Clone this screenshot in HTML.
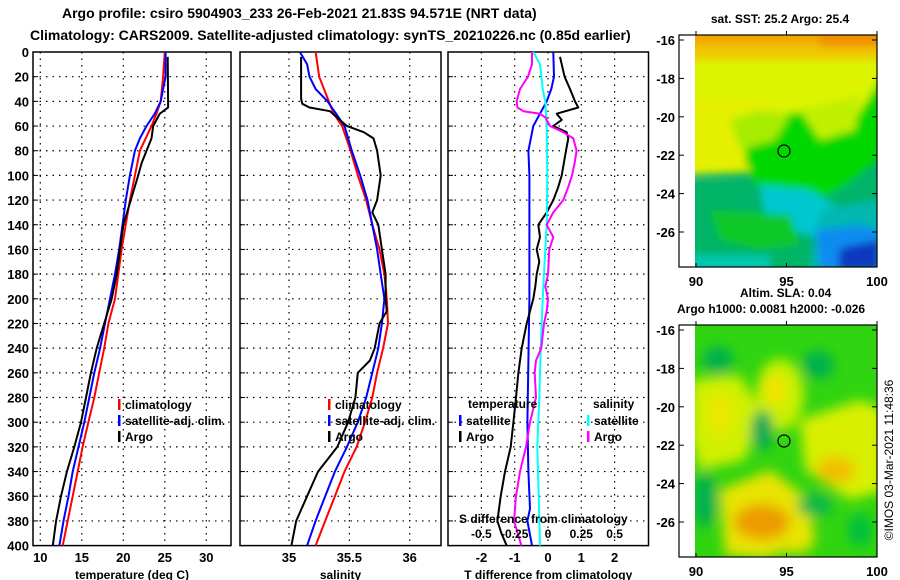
<!DOCTYPE html>
<html><head><meta charset="utf-8"><style>
html,body{margin:0;padding:0;background:#fff;width:900px;height:580px;overflow:hidden}
svg{display:block;font-family:"Liberation Sans",Arial,sans-serif;font-weight:bold}
</style></head><body>
<svg id="fig" width="900" height="580" viewBox="0 0 900 580" xmlns="http://www.w3.org/2000/svg">
<defs>
<filter id="bl1" x="-20%" y="-20%" width="140%" height="140%"><feGaussianBlur stdDeviation="4"/></filter>
<filter id="bl2" x="-30%" y="-30%" width="160%" height="160%"><feGaussianBlur stdDeviation="6"/></filter>
<clipPath id="c1"><rect x="695" y="35" width="182" height="232"/></clipPath>
<clipPath id="c2"><rect x="695" y="325" width="182" height="232"/></clipPath>
</defs>
<text x="62" y="18" font-size="14">Argo profile: csiro 5904903_233 26-Feb-2021 21.83S 94.571E (NRT data)</text>
<text x="30" y="40" font-size="14">Climatology: CARS2009. Satellite-adjusted climatology: synTS_20210226.nc (0.85d earlier)</text>

<g id="p1"></g>
<g id="p2"></g>
<g id="p3"></g>

<!-- SST map -->
<g>
<text x="780" y="23" font-size="12" text-anchor="middle">sat. SST: 25.2 Argo: 25.4</text>
<g clip-path="url(#c1)">
<rect x="695" y="35" width="182" height="232" fill="#00b468"/>
<g filter="url(#bl1)">
<rect x="680" y="20" width="210" height="110" fill="#dcf400"/>
<polygon points="680,100 770,100 775,160 760,172 680,175" fill="#e4f000"/>
<rect x="680" y="20" width="210" height="30" fill="#f0a800"/>
<rect x="680" y="45" width="210" height="15" fill="#f0c800"/>
<rect x="820" y="25" width="70" height="22" fill="#f09000"/>
<polygon points="745,118 800,112 845,135 880,80 890,80 890,150 845,185 820,200 760,195 745,160" fill="#00d800"/>
<polygon points="730,120 760,110 790,115 775,140 740,150" fill="#a8ec00"/>
<polygon points="800,110 860,95 855,130 820,140" fill="#c0f000"/>
<polygon points="680,180 760,185 800,200 830,195 890,165 890,270 680,270" fill="#00b468"/>
<polygon points="760,185 810,190 850,215 830,240 790,230 765,215" fill="#00c8d0"/>
<polygon points="710,210 790,215 800,245 760,250 720,240" fill="#10c828"/>
<polygon points="820,210 880,200 880,270 810,270" fill="#00b8b0"/>
<polygon points="815,230 860,225 880,230 880,270 820,270" fill="#0a8cf0"/>
<polygon points="840,248 880,240 880,270 838,270" fill="#0838c0"/>
<rect x="680" y="255" width="90" height="20" fill="#00c8b0"/>
</g>
</g>
<circle cx="784" cy="151" r="6" fill="none" stroke="#000" stroke-width="1.2"/>
</g>

<!-- SLA map -->
<g>
<text x="740" y="297" font-size="12">Altim. SLA: 0.04</text>
<text x="677" y="313" font-size="12">Argo h1000: 0.0081 h2000: -0.026</text>
<g clip-path="url(#c2)">
<rect x="695" y="325" width="182" height="232" fill="#30d410"/>
<g filter="url(#bl2)">
<polygon points="690,380 740,375 760,410 745,460 700,470 690,440" fill="#d0f000"/>
<ellipse cx="720" cy="415" rx="14" ry="22" fill="#e8e800"/>
<ellipse cx="718" cy="360" rx="15" ry="14" fill="#00b050"/>
<ellipse cx="818" cy="365" rx="16" ry="14" fill="#00b050"/>
<ellipse cx="780" cy="395" rx="24" ry="36" fill="#c8f000"/>
<ellipse cx="775" cy="390" rx="12" ry="16" fill="#f0e400"/>
<ellipse cx="762" cy="430" rx="11" ry="20" fill="#00a858"/>
<polygon points="800,420 860,400 885,410 885,490 850,500 805,470" fill="#d8f000"/>
<ellipse cx="836" cy="470" rx="20" ry="14" fill="#f0c000"/>
<polygon points="720,490 770,470 810,500 815,545 780,560 725,555" fill="#e8e400"/>
<ellipse cx="762" cy="522" rx="28" ry="18" fill="#ec9c00"/>
<ellipse cx="705" cy="500" rx="12" ry="28" fill="#00b050"/>
<ellipse cx="815" cy="505" rx="18" ry="12" fill="#10b848"/>
<ellipse cx="860" cy="530" rx="12" ry="16" fill="#00c040"/>
<ellipse cx="790" cy="556" rx="22" ry="6" fill="#30d410"/>
</g>
</g>
<circle cx="784" cy="441" r="6" fill="none" stroke="#000" stroke-width="1.2"/>
<text transform="translate(893,460) rotate(-90)" font-size="12" font-weight="normal" text-anchor="middle">©IMOS 03-Mar-2021 11:48:36</text>
</g>
<g id="maps"></g>
</svg>
<script>
// ---------- data ----------
const tClimDepth=[0,20,40,50,60,80,100,120,160,200,220,240,260,280,300,320,340,360,380,400];
const tClimVal=[25.0,24.8,24.5,24.0,23.4,22.0,21.4,20.8,19.8,19.0,18.2,17.7,17.1,16.5,15.8,15.1,14.5,13.9,13.3,12.7];
const tSatDepth=[0,20,30,40,50,60,70,80,90,100,120,140,160,180,200,220,240,260,280,300,320,340,360,380,400];
const tSatVal=[25.1,25.1,24.8,24.5,23.8,22.8,22.0,21.4,21.1,20.8,20.3,19.9,19.5,19.0,18.4,17.8,17.2,16.5,15.9,15.3,14.6,13.9,13.4,12.8,12.3];
const tArgoDepth=[4,40,45,50,55,60,70,80,90,100,120,140,160,180,200,220,240,260,280,300,320,340,360,380,400];
const tArgoVal=[25.35,25.4,25.4,24.4,24.0,23.6,23.4,22.8,22.2,21.8,20.9,20.0,19.6,19.2,18.6,17.7,16.8,16.1,15.5,14.9,14.1,13.2,12.5,11.9,11.5];

const sClimDepth=[0,20,40,50,60,80,100,120,140,160,180,200,220,240,260,280,300,320,340,360,380,400];
const sClimVal=[35.22,35.25,35.33,35.37,35.44,35.51,35.57,35.64,35.69,35.75,35.79,35.81,35.82,35.78,35.73,35.69,35.63,35.56,35.46,35.38,35.30,35.22];
const sSatDepth=[0,10,20,30,40,50,60,80,100,120,140,160,180,200,220,240,260,280,300,320,340,360,380,400];
const sSatVal=[35.09,35.15,35.17,35.22,35.32,35.39,35.46,35.52,35.59,35.65,35.69,35.73,35.76,35.79,35.77,35.74,35.69,35.64,35.57,35.48,35.38,35.30,35.22,35.15];
const sArgoDepth=[4,38,42,45,48,55,60,65,70,80,100,120,130,140,160,180,200,210,220,240,250,260,280,300,320,340,360,380,400];
const sArgoVal=[35.10,35.10,35.11,35.17,35.34,35.42,35.48,35.62,35.70,35.73,35.76,35.73,35.69,35.74,35.77,35.80,35.80,35.81,35.75,35.71,35.67,35.57,35.55,35.49,35.40,35.24,35.15,35.06,35.02];

const dTSatDepth=[0,20,30,40,50,60,80,100,200,300,340,370,380,400];
const dTSatVal=[0.16,0.18,0.10,-0.04,-0.24,-0.44,-0.59,-0.56,-0.56,-0.62,-0.59,-0.54,-0.62,-0.48];
const dTArgoDepth=[4,20,30,40,45,50,55,60,65,70,80,100,110,120,130,140,150,160,170,180,190,200,220,240,260,280,300,320,340,360,380,390,400];
const dTArgoVal=[0.36,0.5,0.66,0.81,0.91,0.26,0.41,0.16,0.56,0.61,0.54,0.41,0.3,0.16,-0.04,-0.29,-0.24,-0.34,-0.26,-0.34,-0.38,-0.44,-0.64,-0.79,-0.89,-0.96,-1.04,-1.12,-1.29,-1.42,-1.52,-1.4,-1.24];
const dSSatDepth=[0,10,30,40,60,100,140,160,200,240,280,320,360,400];
const dSSatVal=[-0.11,-0.06,-0.04,-0.02,-0.01,-0.005,-0.01,-0.02,-0.04,-0.055,-0.065,-0.08,-0.07,-0.06];
const dSArgoDepth=[0,10,20,30,40,45,48,50,53,60,65,70,80,90,100,110,120,130,140,150,160,180,190,200,210,220,240,250,260,280,300,320,340,360,380,400];
const dSArgoVal=[-0.12,-0.12,-0.15,-0.21,-0.235,-0.23,-0.185,-0.06,-0.02,0.015,0.115,0.19,0.215,0.2,0.18,0.15,0.115,0.04,-0.01,0.04,0.01,0.0,-0.02,0.0,-0.01,-0.03,-0.05,-0.09,-0.1,-0.09,-0.135,-0.165,-0.21,-0.24,-0.255,-0.2];

const depthTicks=[0,20,40,60,80,100,120,140,160,180,200,220,240,260,280,300,320,340,360,380,400];
const tTicks=[10,15,20,25,30];
const sTicks=[35,35.5,36];
const dTTicks=[-2,-1,0,1,2];
const dSTicks=[-0.5,-0.25,0,0.25,0.5];
const latTicks=[-16,-18,-20,-22,-24,-26];
const lonTicks=[90,95,100];

// ---------- helpers ----------
const NS='http://www.w3.org/2000/svg';
const TOP=52,BOT=545.6;
const yD=d=>TOP+(BOT-TOP)*d/400;
function mk(parent,tag,attrs){const e=document.createElementNS(NS,tag);for(const k in attrs)e.setAttribute(k,attrs[k]);parent.appendChild(e);return e;}
function txt(parent,x,y,s,anchor,size){const t=mk(parent,'text',{x:x,y:y,'font-size':size||12,'text-anchor':anchor||'start'});t.textContent=s;return t;}

function panel(g,x0,x1,xTicks,xFn,xLabels,title,showDepth){
  const fr=mk(g,'rect',{x:x0,y:TOP,width:x1-x0,height:BOT-TOP,fill:'none',stroke:'#000','stroke-width':1.5});
  
  
  depthTicks.forEach(d=>{
    const y=yD(d);
    if(d>0&&d<400){const l=mk(g,'line',{x1:x0,x2:x1,y1:y,y2:y,stroke:'#000','stroke-width':1.2,'stroke-dasharray':'1.5 5'});
      
      }
    mk(g,'line',{x1:x0,x2:x0+5,y1:y,y2:y,stroke:'#000','stroke-width':1});
    if(showDepth){const t=txt(g,x0-4,y+5,String(d),'end',13);
      
      }
  });
  xTicks.forEach(v=>{
    const x=xFn(v);
    const l=mk(g,'line',{x1:x,x2:x,y1:TOP,y2:BOT,stroke:'#000','stroke-width':1.2,'stroke-dasharray':'1.5 5'});
    
    
    if(xLabels){const t=txt(g,x,562,String(v),'middle',13);
      
      }
  });
  const tt=txt(g,(x0+x1)/2,579,title,'middle',12);
  
  
}
function series(g,depths,vals,xFn,color,name,w){
  let pts=[];
  for(let i=0;i<depths.length;i++){pts.push(xFn(vals[i]).toFixed(1)+','+yD(depths[i]).toFixed(1));}
  const p=mk(g,'polyline',{points:pts.join(' '),fill:'none',stroke:color,'stroke-width':w||2,'stroke-linejoin':'round'});
  
  
}
function legend(g,x,y,color,label,name){
  const b=mk(g,'rect',{x:x,y:y-10,width:2.5,height:11,fill:color});
  
  
  const t=txt(g,x+7,y,label,'start',12);
  
  
}

// ---------- panel 1 ----------
const p1=document.getElementById('p1');
const xT=v=>40.3+(v-10)*8.3;
panel(p1,33,231,tTicks,xT,true,'temperature (deg C)',true);
series(p1,tClimDepth,tClimVal,xT,'#ff0000','temp-climatology-line');
series(p1,tSatDepth,tSatVal,xT,'#0000ff','temp-satellite-line');
series(p1,tArgoDepth,tArgoVal,xT,'#000000','temp-argo-line');
legend(p1,118,409,'#ff0000','climatology','legend-climatology');
legend(p1,118,425,'#0000ff','satellite-adj. clim.','legend-satellite');
legend(p1,118,441,'#000000','Argo','legend-argo');

// ---------- panel 2 ----------
const p2=document.getElementById('p2');
const xS=v=>289+(v-35)*120.7;
panel(p2,240,441,sTicks,xS,true,'salinity',false);
series(p2,sClimDepth,sClimVal,xS,'#ff0000','sal-climatology-line');
series(p2,sSatDepth,sSatVal,xS,'#0000ff','sal-satellite-line');
series(p2,sArgoDepth,sArgoVal,xS,'#000000','sal-argo-line');
legend(p2,328,409,'#ff0000','climatology','legend-climatology');
legend(p2,328,425,'#0000ff','satellite-adj. clim.','legend-satellite');
legend(p2,328,441,'#000000','Argo','legend-argo');

// ---------- panel 3 ----------
const p3=document.getElementById('p3');
const xdT=v=>548+v*33.3;
const xdS=v=>548+v*133.2;
panel(p3,448,648.5,dTTicks,xdT,true,'T difference from climatology',false);
series(p3,dTSatDepth,dTSatVal,xdT,'#0000ff','dT-satellite-line');
series(p3,dTArgoDepth,dTArgoVal,xdT,'#000000','dT-argo-line');
series(p3,dSSatDepth,dSSatVal,xdS,'#00ffff','dS-satellite-line');
series(p3,dSArgoDepth,dSArgoVal,xdS,'#ff00ff','dS-argo-line');
let tl=txt(p3,468,408,'temperature','start',12);


legend(p3,459,425,'#0000ff','satellite','legend-t-satellite');
legend(p3,459,441,'#000000','Argo','legend-t-argo');
tl=txt(p3,593,408,'salinity','start',12);


legend(p3,587,425,'#00ffff','satellite','legend-s-satellite');
legend(p3,587,441,'#ff00ff','Argo','legend-s-argo');
tl=txt(p3,459,523,'S difference from climatology','start',12);


dSTicks.forEach(v=>{const t=txt(p3,xdS(v),538,String(v),'middle',12);
  
  });

// ---------- map axes ----------
const mg=document.getElementById('maps');
const lonX=v=>696+(v-90)*18.1;
[[35,40],[325,330]].forEach(([top,lat16])=>{
  const fr=mk(mg,'rect',{x:679,y:top,width:198,height:232,fill:'none',stroke:'#000','stroke-width':1.2});
  
  
  latTicks.forEach(v=>{const y=lat16+(-16-v)*19.2;
    mk(mg,'line',{x1:679,x2:684,y1:y,y2:y,stroke:'#000'});
    mk(mg,'line',{x1:872,x2:877,y1:y,y2:y,stroke:'#000'});
    const t=txt(mg,675,y+5,String(v),'end',13);
    
    });
  lonTicks.forEach(v=>{const x=lonX(v);
    mk(mg,'line',{x1:x,x2:x,y1:top,y2:top-4,stroke:'#000'});
    mk(mg,'line',{x1:x,x2:x,y1:top+232,y2:top+228,stroke:'#000'});
    const t=txt(mg,x,top+251,String(v),'middle',13);
    
    });
});
</script>
</body></html>
